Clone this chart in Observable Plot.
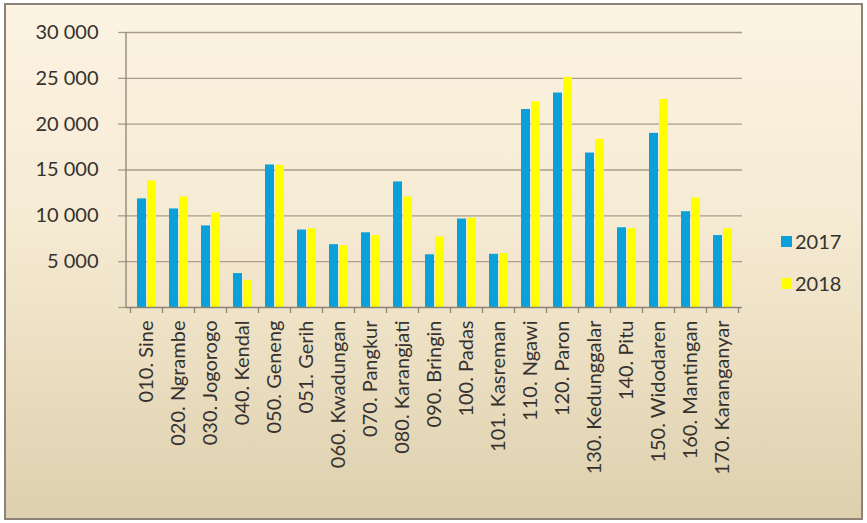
<!DOCTYPE html>
<html>
<head>
<meta charset="utf-8">
<script src="https://cdn.jsdelivr.net/npm/d3@7"></script>
<script src="https://cdn.jsdelivr.net/npm/@observablehq/plot@0.6"></script>
<style>
  html, body { margin: 0; padding: 0; background: #ffffff; }
  #wrap { position: relative; width: 867px; height: 523px; overflow: hidden; font-family: Lato, "Open Sans", sans-serif; }
  #panel { position: absolute; left: 4px; top: 3px; width: 855px; height: 513px;
           border: 2px solid #8d8276;
           background: linear-gradient(180deg, #fcf3e2 0%, #f6ebd4 40%, #e9dcbe 75%, #dcd0ae 100%); }
  #chart { position: absolute; left: 0; top: 0; }
  #legend { position: absolute; left: 781px; top: 229px; color: #35322e; font-size: 20px; }
  .row { display: flex; align-items: center; height: 24px; margin-bottom: 18px; }
  .sw { width: 11px; height: 11px; margin-right: 3px; }
</style>
</head>
<body>
<div id="wrap">
  <div id="panel"></div>
  <div id="chart"></div>
  <div id="legend"></div>
</div>
<script>
// districts (labels as printed on the chart)
const districts = ["010. Sine", "020. Ngrambe", "030. Jogorogo", "040. Kendal", "050. Geneng", "051. Gerih",
  "060. Kwadungan", "070. Pangkur", "080. Karangjati", "090. Bringin", "100. Padas", "101. Kasreman",
  "110. Ngawi", "120. Paron", "130. Kedunggalar", "140. Pitu", "150. Widodaren", "160. Mantingan", "170. Karanganyar"];
const values2017 = [11850, 10750, 8900, 3700, 15550, 8450, 6850, 8150, 13700, 5750, 9650, 5800,
  21600, 23400, 16850, 8700, 19000, 10450, 7850];
const values2018 = [13800, 12050, 10300, 2950, 15500, 8600, 6750, 7850, 12050, 7700, 9750, 5900,
  22450, 25100, 18350, 8600, 22700, 11950, 8600];
const years = ["2017", "2018"];
const colors = ["#0aa0d9", "#ffff00"];
const yTicks = [0, 5000, 10000, 15000, 20000, 25000, 30000];

const rows = [];
districts.forEach((d, i) => {
  rows.push({district: d, year: "2017", value: values2017[i]});
  rows.push({district: d, year: "2018", value: values2018[i]});
});

const fmt = v => v === 0 ? "" : d3.format(",")(v).replace(/,/g, " ");
const textColor = "#35322e";
const gridColor = "#a89c8b";

const chart = Plot.plot({
  width: 867,
  height: 523,
  marginLeft: 126,
  marginRight: 125,
  marginTop: 32,
  marginBottom: 216,
  style: {background: "transparent", fontFamily: "Lato, 'Open Sans', sans-serif", color: textColor},
  x: {domain: districts, paddingInner: 0.415, paddingOuter: 0.2, label: null},
  y: {domain: [0, 30000], label: null},
  color: {domain: years, range: colors},
  marks: [
    Plot.gridY(yTicks.slice(1), {stroke: gridColor, strokeOpacity: 1, strokeWidth: 1.3}),
    Plot.axisY(yTicks, {tickSize: 8, tickPadding: 20, tickFormat: fmt, fontSize: 20, stroke: gridColor, strokeWidth: 1.3, fill: textColor}),
    Plot.barY(rows.filter(r => r.year === "2017"), {x: "district", y: "value", fill: "year", insetRight: 10}),
    Plot.barY(rows.filter(r => r.year === "2018"), {x: "district", y: "value", fill: "year", insetLeft: 10}),
    Plot.axisX({tickSize: 0, tickRotate: -90, tickPadding: 13, fontSize: 20, fill: textColor}),
    Plot.ruleY([0], {stroke: "#8b8378", strokeWidth: 1.3})
  ]
});
document.getElementById("chart").appendChild(chart);

// left axis line and category boundary ticks, positioned with the plot's own scales
const xs = chart.scale("x");
const ys = chart.scale("y");
const svg = d3.select(chart);
const x0 = xs.range[0];
const g = svg.append("g").attr("stroke", "#8b8378").attr("stroke-width", 1.3);
g.append("line").attr("x1", x0).attr("x2", x0).attr("y1", ys.apply(0)).attr("y2", ys.apply(30000));
const step = xs.step;
const bounds = districts.map(d => xs.apply(d) - (step - xs.bandwidth) / 2);
bounds.push(xs.apply(districts[districts.length - 1]) + xs.bandwidth + (step - xs.bandwidth) / 2);
bounds.forEach(b => g.append("line").attr("x1", b).attr("x2", b).attr("y1", ys.apply(0)).attr("y2", ys.apply(0) + 6));

// legend
const legend = document.getElementById("legend");
years.forEach((y, i) => {
  const row = document.createElement("div");
  row.className = "row";
  row.innerHTML = `<div class="sw" style="background:${colors[i]}"></div><span>${y}</span>`;
  legend.appendChild(row);
});
</script>
</body>
</html>
